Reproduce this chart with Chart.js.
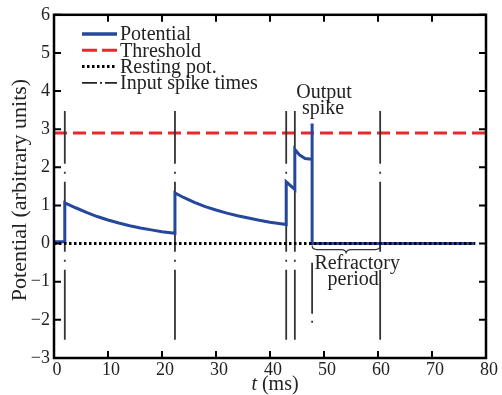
<!DOCTYPE html>
<html><head><meta charset="utf-8">
<script src="https://cdn.jsdelivr.net/npm/chart.js@4"></script>
<style>html,body{margin:0;padding:0;background:#fff}</style>
</head><body>
<canvas id="c" width="502" height="395" style="width:502px;height:395px"></canvas>
<script>
// ---- data ----
const potentialTimes  = [0, 2, 2, 4, 6, 8, 10, 12, 14, 16, 18, 20, 22.4, 22.4, 24, 26, 28, 30, 32, 34, 36, 38, 40, 43, 43, 44.6, 44.6, 45.5, 46.5, 47.8, 47.8, 47.8, 78];
const potentialValues = [0.05, 0.05, 1.07, 0.94, 0.82, 0.71, 0.62, 0.54, 0.47, 0.41, 0.36, 0.31, 0.27, 1.33, 1.21, 1.08, 0.97, 0.88, 0.80, 0.73, 0.67, 0.61, 0.56, 0.50, 1.62, 1.42, 2.47, 2.32, 2.23, 2.21, 3.15, 0, 0];
const thresholdLevel = [2.9];
const restingLevel = [0];
const lineTimeRange = [0, 80];
const restingTimeRange = [0, 78];
const inputSpikeTimes = [2, 22.4, 43, 44.6, 60.4];
const inputMarkerRange = [-2.52, 3.48];
const outputSpikeTimes = [47.8];
const outputMarkerRange = [-0.5, -2.08];
const refractoryRange = [47.8, 60.4];
const xTickValues = [0, 10, 20, 30, 40, 50, 60, 70, 80];
const yTickValues = [-3, -2, -1, 0, 1, 2, 3, 4, 5, 6];
const legendLabels = ['Potential', 'Threshold', 'Resting pot.', 'Input spike times'];

const BLUE = '#25479c', RED = '#e8282c', GRAY = '#333333';
const SERIF = "'Liberation Serif', 'DejaVu Serif', serif";

const datasets = [];
datasets.push({
  label: legendLabels[0], order: 1,
  data: potentialTimes.map((t, i) => ({x: t, y: potentialValues[i]})),
  borderColor: BLUE, borderWidth: 3, tension: 0
});
datasets.push({
  label: legendLabels[1], order: 3,
  data: lineTimeRange.map(t => ({x: t, y: thresholdLevel[0]})),
  borderColor: RED, borderWidth: 3, borderDash: [13, 6]
});
datasets.push({
  label: legendLabels[2], order: 0,
  data: restingTimeRange.map(t => ({x: t, y: restingLevel[0]})),
  borderColor: '#000', borderWidth: 3, borderDash: [2.5, 2.5]
});
inputSpikeTimes.forEach(t => datasets.push({
  label: legendLabels[3], order: 2,
  data: inputMarkerRange.map(v => ({x: t, y: v})),
  borderColor: GRAY, borderWidth: 1.8, borderDash: [70, 8, 2, 8]
}));
outputSpikeTimes.forEach(t => datasets.push({
  label: 'output', order: 2,
  data: [{x: t, y: outputMarkerRange[0]}, {x: t, y: outputMarkerRange[1]}],
  borderColor: GRAY, borderWidth: 1.8, borderDash: [51, 7, 2, 40]
}));

const fmt = v => (v < 0 ? '\u2212' + Math.abs(v) : String(v));

const decor = {
  id: 'decor',
  afterDraw(chart) {
    const {ctx, chartArea: a, scales: {x, y}} = chart;
    ctx.save();
    // inward tick marks
    ctx.strokeStyle = '#000'; ctx.lineWidth = 2; ctx.setLineDash([]);
    const TL = 7;
    xTickValues.forEach(v => {
      const px = x.getPixelForValue(v);
      ctx.beginPath(); ctx.moveTo(px, a.bottom); ctx.lineTo(px, a.bottom - TL);
      ctx.moveTo(px, a.top); ctx.lineTo(px, a.top + TL); ctx.stroke();
    });
    yTickValues.forEach(v => {
      const py = y.getPixelForValue(v);
      ctx.beginPath(); ctx.moveTo(a.left, py); ctx.lineTo(a.left + TL, py);
      ctx.moveTo(a.right, py); ctx.lineTo(a.right - TL, py); ctx.stroke();
    });
    // frame
    ctx.lineWidth = 2.5;
    ctx.strokeRect(a.left, a.top, a.right - a.left, a.bottom - a.top);

    // legend
    const lx0 = 82, lx1 = 117, ly0 = 34, dy = 16.3;
    const styles = [
      {c: BLUE, w: 3.5, d: []},
      {c: RED, w: 3, d: [15, 5]},
      {c: '#000', w: 3, d: [2.5, 2.5]},
      {c: '#222', w: 1.8, d: [15, 3, 2, 3]}
    ];
    ctx.font = '20px ' + SERIF; ctx.fillStyle = '#222';
    ctx.textAlign = 'left'; ctx.textBaseline = 'middle';
    legendLabels.forEach((lab, i) => {
      const yy = ly0 + i * dy;
      const s = styles[i];
      ctx.strokeStyle = s.c; ctx.lineWidth = s.w; ctx.setLineDash(s.d);
      ctx.beginPath(); ctx.moveTo(lx0, yy); ctx.lineTo(lx1, yy); ctx.stroke();
      ctx.fillText(lab, lx1 + 3, yy + 1);
    });
    ctx.setLineDash([]);

    // annotations
    ctx.textAlign = 'center';
    const ox = x.getPixelForValue(outputSpikeTimes[0]);
    ctx.fillText('Output', ox + 12, y.getPixelForValue(thresholdLevel[0]) - 40);
    ctx.fillText('spike', ox + 11, y.getPixelForValue(thresholdLevel[0]) - 24);
    const rx0 = x.getPixelForValue(refractoryRange[0]);
    const rx1 = x.getPixelForValue(refractoryRange[1]);
    const y0 = y.getPixelForValue(restingLevel[0]);
    const rm = (rx0 + rx1) / 2;
    ctx.fillText('Refractory', rm + 11, y0 + 20);
    ctx.fillText('period', rm + 7, y0 + 36);
    // curly brace
    ctx.strokeStyle = GRAY; ctx.lineWidth = 1.2;
    const bt = y0 + 2, bm = y0 + 6, bb = y0 + 10;
    ctx.beginPath();
    ctx.moveTo(rx0, bt);
    ctx.quadraticCurveTo(rx0, bm, rx0 + 5, bm);
    ctx.lineTo(rm - 5, bm);
    ctx.quadraticCurveTo(rm, bm, rm, bb);
    ctx.quadraticCurveTo(rm, bm, rm + 5, bm);
    ctx.lineTo(rx1 - 5, bm);
    ctx.quadraticCurveTo(rx1, bm, rx1, bt);
    ctx.stroke();

    // axis titles
    ctx.fillStyle = '#222';
    ctx.textBaseline = 'middle';
    const cx = (a.left + a.right) / 2 + 5;
    ctx.font = 'italic 20px ' + SERIF;
    const tW = ctx.measureText('t').width;
    ctx.font = '20px ' + SERIF;
    const restW = ctx.measureText(' (ms)').width;
    const startX = cx - (tW + restW) / 2;
    ctx.textAlign = 'left';
    ctx.font = 'italic 20px ' + SERIF;
    ctx.fillText('t', startX, 385);
    ctx.font = '20px ' + SERIF;
    ctx.fillText(' (ms)', startX + tW, 385);

    ctx.translate(20, 190);
    ctx.rotate(-Math.PI / 2);
    ctx.textAlign = 'center';
    ctx.font = '22px ' + SERIF;
    ctx.fillText('Potential (arbitrary units)', 0, 0);
    ctx.restore();
  }
};

new Chart(document.getElementById('c'), {
  type: 'scatter',
  data: {datasets},
  options: {
    responsive: false, animation: false, devicePixelRatio: 1,
    layout: {padding: {left: 0, top: 14, right: 16, bottom: 0}},
    datasets: {scatter: {showLine: true, pointRadius: 0, pointHoverRadius: 0, fill: false}},
    plugins: {legend: {display: false}, tooltip: {enabled: false}},
    scales: {
      x: {
        type: 'linear', min: 0, max: 80,
        afterBuildTicks: s => { s.ticks = xTickValues.map(v => ({value: v})); },
        afterFit: s => { s.height = 37; },
        grid: {display: false, drawTicks: false}, border: {display: false},
        ticks: {font: {family: SERIF, size: 18}, color: '#222', padding: 1, labelOffset: 3, maxRotation: 0, callback: v => fmt(v)}
      },
      y: {
        type: 'linear', min: -3, max: 6,
        afterBuildTicks: s => { s.ticks = yTickValues.map(v => ({value: v})); },
        afterFit: s => { s.width = 54; },
        grid: {display: false, drawTicks: false}, border: {display: false},
        ticks: {font: {family: SERIF, size: 18}, color: '#222', padding: 4, callback: v => fmt(v)}
      }
    }
  },
  plugins: [decor]
});
</script>
</body></html>
